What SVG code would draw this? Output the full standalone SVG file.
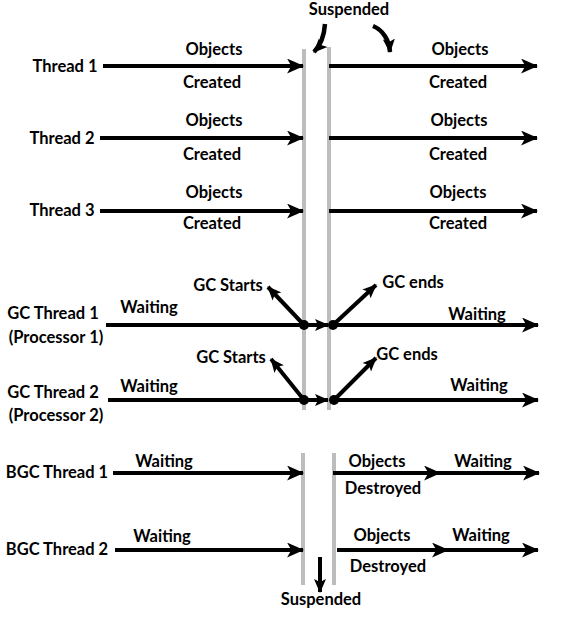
<svg xmlns="http://www.w3.org/2000/svg" width="586" height="617" viewBox="0 0 586 617">
<style>
text{font-family:"Lato","Liberation Sans",sans-serif;font-weight:bold;font-size:16.5px;fill:#000;text-anchor:middle}
.ln{stroke:#000;stroke-width:4;fill:none;marker-end:url(#ah)}
.sm{stroke:#000;stroke-width:4;fill:none;marker-end:url(#ahs)}
.cv{stroke:#000;stroke-width:4.5;fill:none;marker-end:url(#ahs)}
.gray{stroke:#bdbdbd;stroke-width:4;fill:none}
.dot{fill:#000}
</style>
<defs>
<marker id="ah" viewBox="0 0 16 14" refX="15" refY="7" markerWidth="17" markerHeight="15" markerUnits="userSpaceOnUse" orient="auto">
<path d="M0,0 L16,7 L0,14 L4,7 Z" fill="#000"/>
</marker>
<marker id="ahs" viewBox="0 0 14 12" refX="13" refY="6" markerWidth="14" markerHeight="13" markerUnits="userSpaceOnUse" orient="auto">
<path d="M0,0 L14,6 L0,12 L3,6 Z" fill="#000"/>
</marker>
</defs>

<g id="barriers">
<line class="gray" x1="304" y1="49" x2="304" y2="410"/>
<line class="gray" x1="329" y1="47" x2="329" y2="410"/>
<line class="gray" x1="303" y1="453" x2="303" y2="585"/>
<line class="gray" x1="334" y1="453" x2="334" y2="585"/>
</g>

<g id="connectors">
<line class="ln" x1="103" y1="66" x2="303" y2="66"/>
<line class="ln" x1="329" y1="66" x2="537" y2="66"/>
<line class="ln" x1="100" y1="138" x2="303" y2="138"/>
<line class="ln" x1="329" y1="138" x2="537" y2="138"/>
<line class="ln" x1="100" y1="211" x2="303" y2="211"/>
<line class="ln" x1="329" y1="211" x2="537" y2="211"/>

<line class="ln" x1="106" y1="325" x2="304" y2="325" style="marker-end:none"/>
<line class="sm" x1="304" y1="325" x2="328" y2="325"/>
<line class="ln" x1="333" y1="325" x2="538" y2="325"/>
<line class="sm" x1="304" y1="325" x2="268" y2="287"/>
<line class="sm" x1="333" y1="325" x2="376" y2="285"/>

<line class="ln" x1="108" y1="400" x2="304" y2="400" style="marker-end:none"/>
<line class="sm" x1="304" y1="400" x2="328" y2="400"/>
<line class="ln" x1="333" y1="400" x2="538" y2="400"/>
<line class="sm" x1="304" y1="400" x2="271" y2="359"/>
<line class="sm" x1="335" y1="399" x2="376" y2="358"/>

<line class="ln" x1="113" y1="473" x2="303" y2="473"/>
<line class="ln" x1="333" y1="473" x2="440" y2="473"/>
<line class="ln" x1="440" y1="473" x2="539" y2="473"/>
<line class="ln" x1="115" y1="550" x2="303" y2="550"/>
<line class="ln" x1="337" y1="550" x2="448" y2="550"/>
<line class="ln" x1="448" y1="550" x2="538" y2="550"/>

<line class="sm" x1="320" y1="557" x2="320" y2="592"/>
<path class="cv" d="M325,24 C324,38 320,46 314,52"/>
<path class="cv" d="M373,26 C383,30 389,40 390,52"/>
</g>

<g id="dots">
<circle class="dot" cx="304" cy="325" r="5"/>
<circle class="dot" cx="333" cy="325" r="5"/>
<circle class="dot" cx="304" cy="400" r="5"/>
<circle class="dot" cx="334" cy="400" r="5"/>
</g>

<g id="thread1"><text x="65" y="72">Thread 1</text></g>
<g id="thread2"><text x="62" y="144">Thread 2</text></g>
<g id="thread3"><text x="62" y="216">Thread 3</text></g>
<g id="gcthread1"><text x="53" y="319">GC Thread 1</text><text x="56" y="343">(Processor 1)</text></g>
<g id="gcthread2"><text x="53" y="398">GC Thread 2</text><text x="56" y="421">(Processor 2)</text></g>
<g id="bgcthread1"><text x="57" y="478">BGC Thread 1</text></g>
<g id="bgcthread2"><text x="57" y="555">BGC Thread 2</text></g>

<g id="labels">
<text x="349" y="15">Suspended</text>
<text x="214" y="55">Objects</text><text x="212" y="88">Created</text>
<text x="460" y="55">Objects</text><text x="458" y="88">Created</text>
<text x="214" y="126">Objects</text><text x="212" y="160">Created</text>
<text x="459" y="126">Objects</text><text x="458" y="160">Created</text>
<text x="214" y="198">Objects</text><text x="212" y="229">Created</text>
<text x="458" y="198">Objects</text><text x="458" y="229">Created</text>

<text x="149" y="313">Waiting</text>
<text x="228" y="291">GC Starts</text>
<text x="413" y="288">GC ends</text>
<text x="477" y="320">Waiting</text>

<text x="149" y="392">Waiting</text>
<text x="231" y="363">GC Starts</text>
<text x="407" y="360">GC ends</text>
<text x="479" y="391">Waiting</text>

<text x="164" y="467">Waiting</text>
<text x="377" y="467">Objects</text>
<text x="383" y="494">Destroyed</text>
<text x="483" y="467">Waiting</text>

<text x="162" y="542">Waiting</text>
<text x="382" y="541">Objects</text>
<text x="388" y="572">Destroyed</text>
<text x="481" y="541">Waiting</text>

<text x="321" y="605">Suspended</text>
</g>
</svg>
